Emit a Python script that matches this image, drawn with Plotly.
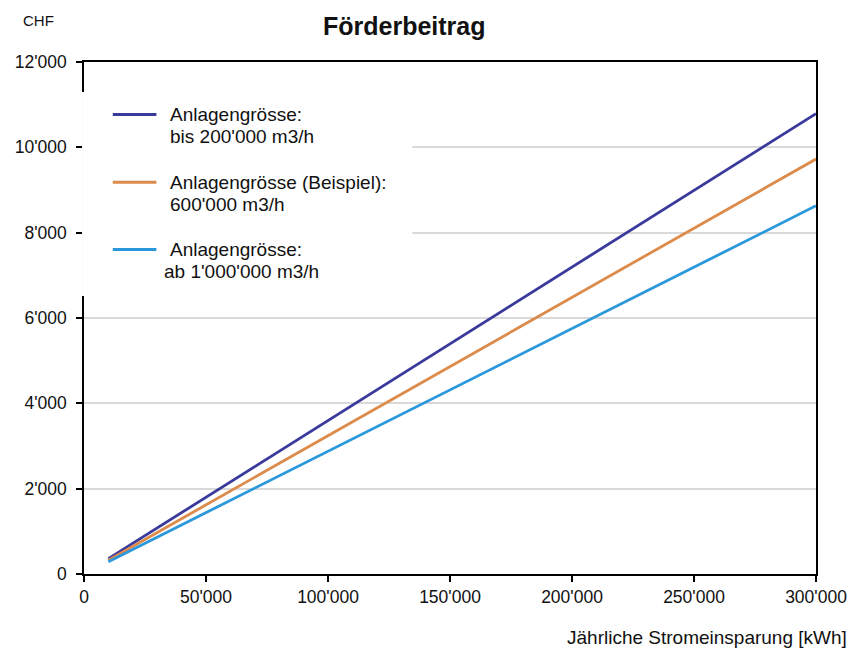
import plotly.graph_objects as go

# ---- data ----
x_kwh = [10000, 300000]
series_names = ["bis 200'000 m3/h", "600'000 m3/h (Beispiel)", "ab 1'000'000 m3/h"]
y_small = [360, 10790]
y_example = [324, 9725]
y_large = [288, 8630]
series_values = [y_small, y_example, y_large]
series_colors = ["#3a3a9c", "#dc8b4b", "#2b98dc"]
legend_lines = [
    ["Anlagengrösse:", "bis 200'000 m3/h"],
    ["Anlagengrösse (Beispiel):", "600'000 m3/h"],
    ["Anlagengrösse:", "ab 1'000'000 m3/h"],
]
x_ticks = [0, 50000, 100000, 150000, 200000, 250000, 300000]
y_ticks = [0, 2000, 4000, 6000, 8000, 10000, 12000]

FONT = "Liberation Sans, Arial, sans-serif"
W, H = 859, 653
L, R, T, B = 84, 37, 62, 79
PW, PH = W - L - R, H - T - B


def px(xp):
    return (xp - L) / PW


def py(yp):
    return (H - B - yp) / PH


fig = go.Figure()
for name, vals, col in zip(series_names, series_values, series_colors):
    fig.add_trace(go.Scatter(x=x_kwh, y=vals, mode="lines", name=name,
                             line=dict(color=col, width=2.8), showlegend=False))

shapes = [dict(type="rect", xref="paper", yref="paper", layer="above",
               x0=px(82), x1=px(415), y0=py(296), y1=py(92),
               fillcolor="white", line=dict(width=0))]
annotations = []
sym_y = [114.5, 182.3, 249.5]
text_x = [[169, 169], [169, 169], [169, 163]]
for i, (lines, col) in enumerate(zip(legend_lines, series_colors)):
    shapes.append(dict(type="line", xref="paper", yref="paper", layer="above",
                       x0=px(113), x1=px(157), y0=py(sym_y[i]), y1=py(sym_y[i]),
                       line=dict(color=col, width=3)))
    for j, t in enumerate(lines):
        annotations.append(dict(text=t, xref="paper", yref="paper",
                                x=px(text_x[i][j]), y=py(sym_y[i] + 22 * j),
                                xanchor="left", yanchor="middle", showarrow=False,
                                font=dict(family=FONT, size=19, color="#111111")))

annotations += [
    dict(text="<b>Förderbeitrag</b>", xref="paper", yref="paper", x=px(407), y=py(26),
         xanchor="center", yanchor="middle", showarrow=False,
         font=dict(family=FONT, size=25, color="#111111")),
    dict(text="CHF", xref="paper", yref="paper", x=px(20), y=py(20),
         xanchor="left", yanchor="middle", showarrow=False,
         font=dict(family=FONT, size=15, color="#111111")),
    dict(text="Jährliche Stromeinsparung [kWh]", xref="paper", yref="paper",
         x=px(855), y=py(637), xanchor="right", yanchor="middle", showarrow=False,
         font=dict(family=FONT, size=19, color="#111111")),
]

axis_common = dict(showline=True, linecolor="black", linewidth=1.5, mirror=True,
                   ticks="outside", ticklen=6, tickwidth=1.5, tickcolor="black",
                   tickformat=",d", zeroline=False,
                   tickfont=dict(family=FONT, size=17.5, color="#111111"))

fig.update_layout(
    width=W, height=H,
    margin=dict(l=L, r=R, t=T, b=B),
    paper_bgcolor="white", plot_bgcolor="white",
    separators=".'",
    showlegend=False,
    shapes=shapes, annotations=annotations,
    xaxis=dict(range=[0, 300000], tickvals=x_ticks, showgrid=False, **axis_common),
    yaxis=dict(range=[0, 12000], tickvals=y_ticks, showgrid=True,
               gridcolor="#d9d9d9", gridwidth=1.5, ticklabelstandoff=6, **axis_common),
)

fig.write_html("out.html", config={"displayModeBar": False},
               post_script="document.body.style.margin='0';")
